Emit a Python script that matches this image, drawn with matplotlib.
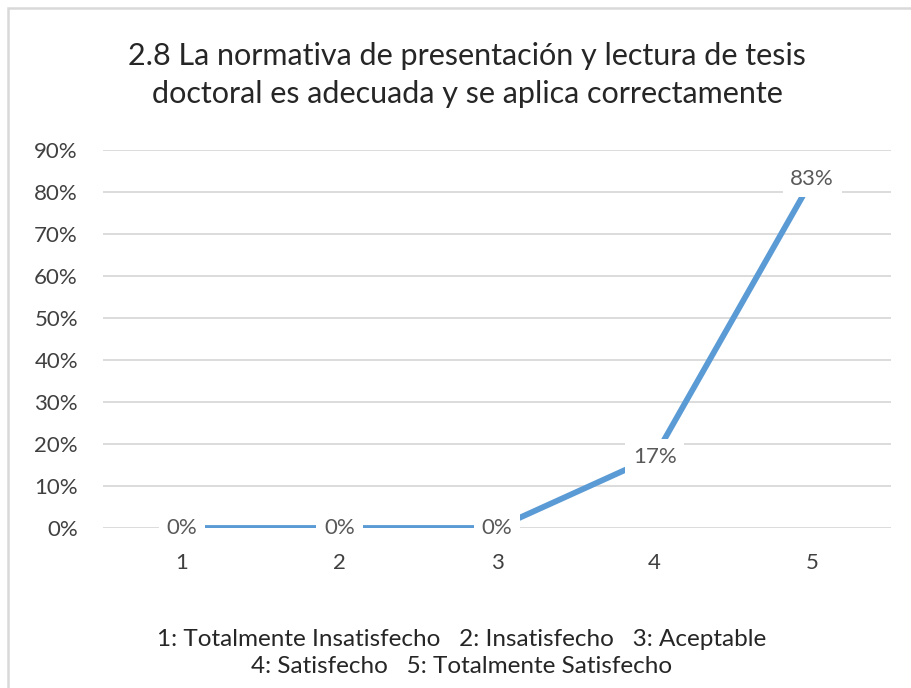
import matplotlib.pyplot as plt
from matplotlib.patches import Rectangle
from matplotlib.ticker import FuncFormatter

# ==========================================
# DATA
# ==========================================
categories = ["1", "2", "3", "4", "5"]
values = [0.0, 0.0, 0.0, 0.17, 0.83]
value_labels = ["0%", "0%", "0%", "17%", "83%"]
y_ticks = [0.0, 0.1, 0.2, 0.3, 0.4, 0.5, 0.6, 0.7, 0.8, 0.9]

title = "2.8 La normativa de presentación y lectura de tesis\ndoctoral es adecuada y se aplica correctamente"
legend_lines = "1: Totalmente Insatisfecho   2: Insatisfecho   3: Aceptable\n4: Satisfecho   5: Totalmente Satisfecho"

# ==========================================
# STYLE
# ==========================================
plt.rcParams['font.family'] = ['Lato', 'DejaVu Sans']
LINE_COLOR = '#5B9BD5'
GRID_COLOR = '#D9D9D9'
TEXT_GRAY = '#595959'

fig = plt.figure(figsize=(9.12, 6.88), dpi=100, facecolor='white')

# outer chart border
fig.patches.append(Rectangle((8 / 912, -0.02), 1.0, 1 - 8 / 688 + 0.02,
                             transform=fig.transFigure, fill=False,
                             edgecolor=GRID_COLOR, linewidth=1.8))

ax = fig.add_axes([103 / 912, 1 - 528 / 688, 788 / 912, 378 / 688])

x = list(range(1, len(categories) + 1))
ax.plot(x, values, color=LINE_COLOR, linewidth=4.2, solid_capstyle='butt', zorder=3)

for xi, v, lab in zip(x, values, value_labels):
    ax.text(xi, v, lab, ha='center', va='center', fontsize=16, color=TEXT_GRAY,
            zorder=4, bbox=dict(boxstyle='square,pad=0.35', fc='white', ec='none'))

ax.set_xlim(0.5, 5.5)
ax.set_ylim(0, 0.9)
ax.set_xticks(x)
ax.set_xticklabels(categories)
ax.set_yticks(y_ticks)
ax.yaxis.set_major_formatter(FuncFormatter(lambda v, p: f"{round(v * 100)}%"))
ax.tick_params(axis='both', length=0, labelsize=16, colors=TEXT_GRAY, labelcolor='#404040')
ax.tick_params(axis='y', pad=18)
ax.tick_params(axis='x', pad=18)
ax.grid(axis='y', color=GRID_COLOR, linewidth=1.3)
ax.set_axisbelow(True)
for s in ax.spines.values():
    s.set_visible(False)

fig.text(467 / 912, 1 - 75 / 688, title, ha='center', va='center',
         fontsize=22, color='#262626', linespacing=1.45)

fig.text(462 / 912, 1 - 653 / 688, legend_lines, ha='center', va='center',
         fontsize=17.5, color='#262626', linespacing=1.4)

plt.savefig('out.png', dpi=100, facecolor=fig.get_facecolor())
